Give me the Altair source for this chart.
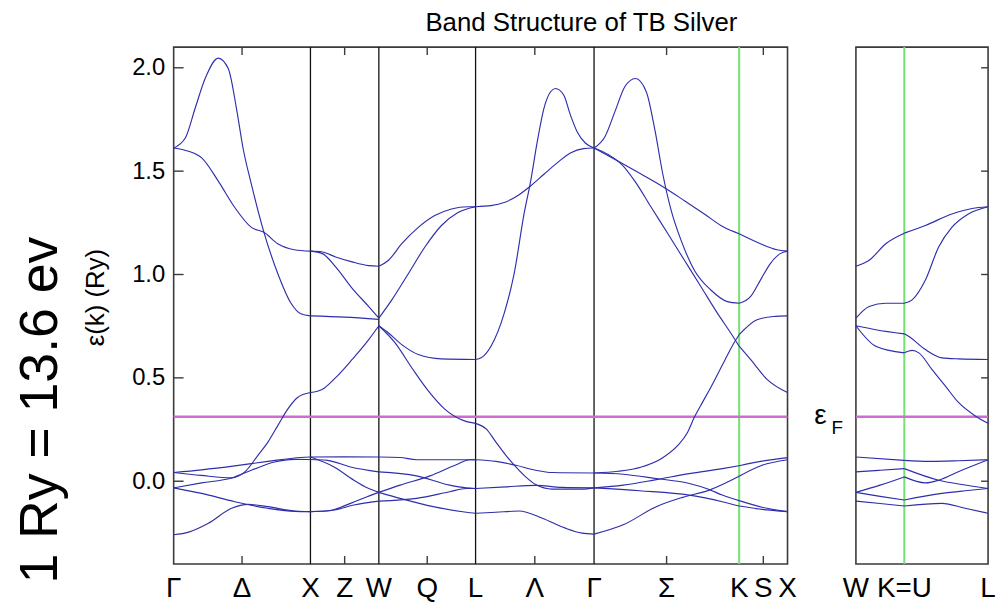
import altair as alt
import pandas as pd

# ---------------- path geometry (units of 2*pi/a) ----------------
MAIN_SEGS = ["GX", "XW", "WL", "LG", "GK", "KX"]
SIDE_SEGS = ["WK", "KL"]
SEG_LEN = {"GX": 1.0, "XW": 0.5, "WL": 0.7071, "LG": 0.8660, "GK": 1.0607,
           "KX": 0.3536, "WK": 0.3536, "KL": 0.6124}
PANEL_GAP = 0.5
E_MIN, E_MAX = -0.4, 2.1
E_FERMI = 0.312
Y_TICKS = [0.0, 0.5, 1.0, 1.5, 2.0]

MAIN_LABELS = ["Γ", "Δ", "X", "Z", "W", "Q", "L", "Λ", "Γ", "Σ", "K", "S", "X"]
SIDE_LABELS = ["W", "K=U", "L"]

# ---------------- bands: [fraction along segment, energy (Ry)] ----------------
GX = {
    "a": [[0, 1.612], [0.085, 1.66], [0.157, 1.804], [0.23, 1.948], [0.326, 2.047], [0.399, 1.996],
          [0.459, 1.804], [0.507, 1.612], [0.568, 1.437], [0.66, 1.204], [0.761, 1.005],
          [0.858, 0.861], [0.93, 0.81], [1, 0.8]],
    "b": [[0, 1.612], [0.109, 1.596], [0.205, 1.564], [0.326, 1.452], [0.447, 1.324], [0.568, 1.228],
          [0.66, 1.204], [0.761, 1.149], [0.882, 1.12], [1, 1.113]],
    "c": [[0, 0.042], [0.2, 0.028], [0.423, 0.016], [0.52, 0.045], [0.616, 0.125], [0.689, 0.189],
          [0.761, 0.269], [0.834, 0.349], [0.906, 0.405], [1, 0.429]],
    "d": [[0, 0.042], [0.205, 0.055], [0.447, 0.074], [0.689, 0.096], [0.93, 0.115], [1, 0.117]],
    "e": [[0, -0.032], [0.205, -0.008], [0.423, 0.016], [0.568, 0.053], [0.737, 0.093], [0.882, 0.106],
          [1, 0.105]],
    "f": [[0, -0.032], [0.205, -0.059], [0.447, -0.099], [0.689, -0.131], [0.93, -0.147], [1, -0.147]],
    "g": [[0, -0.259], [0.109, -0.246], [0.254, -0.203], [0.423, -0.131], [0.544, -0.112],
          [0.689, -0.123], [0.882, -0.144], [1, -0.147]],
}
XW = {
    "a": [[0, 1.113], [0.175, 1.109], [0.368, 1.085], [0.61, 1.061], [0.852, 1.043], [1, 1.04]],
    "b": [[0, 1.113], [0.175, 1.101], [0.368, 1.037], [0.61, 0.933], [0.852, 0.845], [1, 0.789]],
    "c": [[0, 0.8], [0.5, 0.794], [1, 0.783]],
    "d": [[0, 0.429], [0.175, 0.445], [0.368, 0.501], [0.61, 0.589], [0.852, 0.685], [1, 0.752]],
    "e": [[0, 0.117], [0.5, 0.118], [1, 0.117]],
    "f": [[0, 0.105], [0.248, 0.101], [0.586, 0.069], [1, 0.045]],
    "g": [[0, 0.117], [0.345, 0.069], [0.635, 0.005], [0.828, -0.032], [1, -0.054]],
    "h": [[0, -0.147], [0.248, -0.144], [0.586, -0.107], [0.828, -0.075], [1, -0.054]],
    "i": [[0, -0.147], [0.345, -0.139], [0.635, -0.115], [1, -0.096]],
}
WL = {
    "a": [[0, 1.04], [0.1, 1.069], [0.237, 1.149], [0.408, 1.228], [0.578, 1.285], [0.75, 1.317],
          [0.92, 1.328], [1, 1.328]],
    "b": [[0, 0.789], [0.134, 0.877], [0.306, 1.005], [0.476, 1.133], [0.647, 1.237], [0.818, 1.3],
          [1, 1.328]],
    "c": [[0, 0.752], [0.1, 0.717], [0.237, 0.661], [0.408, 0.613], [0.647, 0.592], [1, 0.589]],
    "d": [[0, 0.752], [0.168, 0.669], [0.34, 0.549], [0.511, 0.437], [0.681, 0.349], [0.878, 0.293],
          [1, 0.28]],
    "e": [[0, 0.117], [0.22, 0.115], [0.39, 0.104], [1, 0.104]],
    "f": [[0, 0.045], [0.39, 0.026], [0.732, -0.019], [0.904, -0.032], [1, -0.035]],
    "g": [[0, -0.054], [0.22, -0.019], [0.528, 0.026], [0.8, 0.08], [0.938, 0.104], [1, 0.104]],
    "h": [[0, -0.054], [0.22, -0.083], [0.562, -0.123], [0.904, -0.15], [1, -0.155]],
    "i": [[0, -0.096], [0.39, -0.083], [0.732, -0.051], [0.904, -0.035], [1, -0.035]],
}
LG = {
    "a": [[0, 1.328], [0.13, 1.333], [0.242, 1.348], [0.354, 1.381], [0.465, 1.429], [0.577, 1.485],
          [0.689, 1.54], [0.8, 1.588], [0.911, 1.609], [1, 1.612]],
    "b": [[0, 0.589], [0.047, 0.597], [0.13, 0.653], [0.242, 0.813], [0.326, 1.005], [0.409, 1.293],
          [0.465, 1.452], [0.521, 1.644], [0.577, 1.804], [0.633, 1.884], [0.674, 1.9], [0.744, 1.868],
          [0.8, 1.772], [0.856, 1.692], [0.926, 1.636], [1, 1.612]],
    "c": [[0, 0.28], [0.089, 0.253], [0.172, 0.189], [0.256, 0.125], [0.34, 0.069], [0.423, 0.021],
          [0.507, -0.016], [0.647, -0.038], [0.898, -0.038], [1, -0.032]],
    "d": [[0, 0.104], [0.172, 0.096], [0.34, 0.077], [0.507, 0.053], [0.647, 0.042], [1, 0.04]],
    "e": [[0, -0.035], [0.256, -0.027], [0.507, -0.02], [0.73, -0.03], [1, -0.032]],
    "f": [[0, -0.155], [0.172, -0.15], [0.368, -0.144], [0.563, -0.179], [0.758, -0.227],
          [0.898, -0.251], [1, -0.256]],
}
GK = {
    "a": [[0, 1.612], [0.076, 1.668], [0.144, 1.788], [0.212, 1.908], [0.285, 1.948], [0.36, 1.884],
          [0.417, 1.708], [0.474, 1.485], [0.532, 1.309], [0.6, 1.165], [0.691, 1.021], [0.805, 0.925],
          [0.919, 0.869], [1, 0.861]],
    "b": [[0, 1.612], [0.167, 1.548], [0.327, 1.485], [0.486, 1.42], [0.623, 1.357], [0.76, 1.293],
          [0.896, 1.228], [1, 1.197]],
    "c": [[0, 1.612], [0.098, 1.58], [0.19, 1.533], [0.281, 1.452], [0.395, 1.324], [0.509, 1.197],
          [0.623, 1.069], [0.737, 0.941], [0.85, 0.813], [0.942, 0.717], [1, 0.653]],
    "d": [[0, 0.04], [0.167, 0.048], [0.327, 0.069], [0.463, 0.109], [0.577, 0.173], [0.645, 0.237],
          [0.691, 0.309], [0.75, 0.385], [0.805, 0.455], [0.896, 0.578], [0.964, 0.669], [1, 0.709]],
    "e": [[0, -0.032], [0.201, -0.019], [0.429, 0.008], [0.657, 0.037], [0.884, 0.061], [1, 0.075]],
    "f": [[0, 0.04], [0.201, 0.034], [0.429, 0.013], [0.657, -0.011], [0.794, -0.04], [0.884, -0.067],
          [1, -0.094]],
    "g": [[0, -0.032], [0.315, -0.046], [0.657, -0.067], [0.884, -0.099], [1, -0.12]],
    "h": [[0, -0.256], [0.201, -0.211], [0.429, -0.123], [0.611, -0.078], [0.794, -0.043], [1, 0.024]],
}
KX = {
    "a": [[0, 0.861], [0.235, 0.893], [0.44, 0.973], [0.645, 1.053], [0.85, 1.101], [1, 1.113]],
    "b": [[0, 1.197], [0.44, 1.149], [0.78, 1.12], [1, 1.113]],
    "c": [[0, 0.653], [0.235, 0.589], [0.576, 0.493], [1, 0.429]],
    "d": [[0, 0.709], [0.37, 0.781], [0.71, 0.797], [1, 0.8]],
    "e": [[0, 0.075], [0.473, 0.097], [1, 0.114]],
    "f": [[0, -0.094], [0.473, -0.126], [1, -0.147]],
    "g": [[0, -0.12], [0.473, -0.136], [1, -0.147]],
    "h": [[0, 0.024], [0.473, 0.077], [1, 0.104]],
}
WK = {
    "a": [[0, 1.04], [0.274, 1.069], [0.617, 1.149], [1, 1.2]],
    "b": [[0, 0.789], [0.274, 0.845], [0.617, 0.861], [1, 0.861]],
    "c": [[0, 0.752], [0.41, 0.733], [1, 0.713]],
    "d": [[0, 0.752], [0.41, 0.653], [1, 0.621]],
    "e": [[0, 0.117], [1, 0.101]],
    "f": [[0, 0.045], [0.5, 0.053], [1, 0.061]],
    "g": [[0, -0.054], [0.5, -0.019], [1, 0.021]],
    "h": [[0, -0.054], [0.5, -0.073], [1, -0.091]],
    "i": [[0, -0.096], [0.5, -0.108], [1, -0.12]],
}
KL = {
    "a": [[0, 1.2], [0.252, 1.237], [0.567, 1.293], [0.884, 1.324], [1, 1.328]],
    "b": [[0, 0.861], [0.094, 0.877], [0.252, 0.973], [0.41, 1.133], [0.567, 1.228], [0.765, 1.293],
          [1, 1.328]],
    "c": [[0, 0.713], [0.055, 0.7], [0.252, 0.637], [0.449, 0.597], [0.647, 0.592], [1, 0.589]],
    "d": [[0, 0.621], [0.094, 0.633], [0.174, 0.621], [0.33, 0.541], [0.489, 0.461], [0.647, 0.381],
          [0.843, 0.317], [1, 0.28]],
    "e": [[0, 0.101], [0.291, 0.096], [0.647, 0.099], [1, 0.104]],
    "f": [[0, 0.061], [0.41, 0.005], [0.686, -0.016], [1, -0.035]],
    "g": [[0, 0.021], [0.252, -0.008], [0.41, 0.005], [0.686, 0.053], [1, 0.104]],
    "h": [[0, -0.091], [0.449, -0.059], [0.726, -0.046], [1, -0.035]],
    "i": [[0, -0.12], [0.449, -0.107], [0.726, -0.131], [1, -0.155]],
}
SEG_BANDS = {"GX": GX, "XW": XW, "WL": WL, "LG": LG, "GK": GK, "KX": KX, "WK": WK, "KL": KL}

# ---------------- derived positions ----------------
start = {}
pos = 0.0
for s in MAIN_SEGS:
    start[s] = pos
    pos += SEG_LEN[s]
MAIN_END = pos
P2_START = MAIN_END + PANEL_GAP
pos = P2_START
for s in SIDE_SEGS:
    start[s] = pos
    pos += SEG_LEN[s]
P2_END = pos

WIDTH, HEIGHT = 821, 521
PX_X = WIDTH / P2_END
PX_Y = HEIGHT / (E_MAX - E_MIN)

rows = []
for s, curves in SEG_BANDS.items():
    for name, pts in curves.items():
        for f, e in pts:
            rows.append({"curve": s + name, "k": start[s] + f * SEG_LEN[s], "E": e})
bands = pd.DataFrame(rows)

main_pos = []
for s in MAIN_SEGS:
    main_pos += [start[s], start[s] + SEG_LEN[s] / 2]
main_pos.append(MAIN_END)
side_pos = [start["WK"], start["KL"], P2_END]
labels = pd.DataFrame({"k": main_pos + side_pos, "t": MAIN_LABELS + SIDE_LABELS})

vert_black = pd.DataFrame({"k": [start["XW"], start["WL"], start["LG"], start["GK"]]})
vert_green = pd.DataFrame({"k": [start["KX"], start["KL"]]})
frames = pd.DataFrame({"k0": [0, P2_START], "k1": [MAIN_END, P2_END]})
fermi = pd.DataFrame({"k0": [0, P2_START], "k1": [MAIN_END, P2_END], "E": [E_FERMI, E_FERMI]})

mid_pos = [start[s] + SEG_LEN[s] / 2 for s in MAIN_SEGS]
tick_len_y = 8 / PX_Y
xticks = pd.DataFrame({
    "k": mid_pos + mid_pos,
    "E": [E_MIN] * len(mid_pos) + [E_MAX] * len(mid_pos),
    "E1": [E_MIN + tick_len_y] * len(mid_pos) + [E_MAX - tick_len_y] * len(mid_pos),
})
yticks = pd.DataFrame({
    "k0": [0.0] * len(Y_TICKS) + [P2_END - 7 / PX_X] * len(Y_TICKS),
    "k1": [10 / PX_X] * len(Y_TICKS) + [P2_END] * len(Y_TICKS),
    "E": Y_TICKS + Y_TICKS,
})

FONT = "Liberation Sans"
xs = alt.Scale(domain=[0, P2_END], nice=False, zero=False)
ys = alt.Scale(domain=[E_MIN, E_MAX], nice=False, zero=False)
yaxis = alt.Axis(values=Y_TICKS, format=".1f", labelFontSize=24, labelFont=FONT, labelColor="black",
                 ticks=False, domain=False, grid=False, labelPadding=9,
                 title="ε(k) (Ry)", titleFont=FONT, titleFontSize=26, titleFontWeight="normal",
                 titleColor="black", titleX=-79, titleY=252, titleAngle=270, titleAlign="center",
                 titleBaseline="middle")
Y = lambda f: alt.Y(f, scale=ys, axis=yaxis)
X = lambda f: alt.X(f, scale=xs, axis=None)

frame_layer = alt.Chart(frames).mark_rect(fillOpacity=0, stroke="#3a3a3a", strokeWidth=1.6).encode(
    x=X("k0:Q"), x2="k1:Q", y=alt.value(0), y2=alt.value(HEIGHT))
black_layer = alt.Chart(vert_black).mark_rule(color="#111111", strokeWidth=1.3).encode(x=X("k:Q"))
green_layer = alt.Chart(vert_green).mark_rule(color="#72e272", strokeWidth=2).encode(x=X("k:Q"))
fermi_layer = alt.Chart(fermi).mark_rule(color="#d06bd0", strokeWidth=2.5).encode(
    x=X("k0:Q"), x2="k1:Q", y=Y("E:Q"))
band_layer = alt.Chart(bands).mark_line(color="#2e2eac", strokeWidth=1.15, interpolate="monotone").encode(
    x=X("k:Q"), y=Y("E:Q"), detail="curve:N")
xtick_layer = alt.Chart(xticks).mark_rule(color="#3a3a3a", strokeWidth=1.4).encode(
    x=X("k:Q"), y=Y("E:Q"), y2="E1:Q")
ytick_layer = alt.Chart(yticks).mark_rule(color="#3a3a3a", strokeWidth=1.4).encode(
    x=X("k0:Q"), x2="k1:Q", y=Y("E:Q"))
label_layer = alt.Chart(labels).mark_text(font=FONT, fontSize=28, color="black",
                                          baseline="alphabetic").encode(
    x=X("k:Q"), y=alt.value(HEIGHT + 33), text="t:N")

title_layer = alt.Chart(pd.DataFrame({"t": ["Band Structure of TB Silver"]})).mark_text(
    font=FONT, fontSize=26, color="black", baseline="middle").encode(
    x=alt.value(411), y=alt.value(-24), text="t:N")
note_layer = alt.Chart(pd.DataFrame({"t": ["1 Ry = 13.6 ev"]})).mark_text(
    font=FONT, fontSize=54, color="black", baseline="middle", angle=270).encode(
    x=alt.value(-134), y=alt.value(366), text="t:N")
eps_layer = alt.Chart(pd.DataFrame({"t": ["ε"]})).mark_text(
    font=FONT, fontSize=28, color="black", baseline="middle").encode(
    x=alt.value(652), y=alt.value(372), text="t:N")
sub_layer = alt.Chart(pd.DataFrame({"t": ["F"]})).mark_text(
    font=FONT, fontSize=19, color="black", baseline="middle").encode(
    x=alt.value(669), y=alt.value(384), text="t:N")

chart = alt.layer(
    frame_layer, black_layer, green_layer, fermi_layer, band_layer,
    xtick_layer, ytick_layer, label_layer, title_layer, note_layer, eps_layer, sub_layer
).properties(
    width=WIDTH, height=HEIGHT,
    padding={"left": 167, "top": 37, "right": 8, "bottom": 40},
    autosize=alt.AutoSizeParams(type="none"),
).configure_view(stroke=None)

chart.save("out.html", embed_options={"renderer": "svg", "actions": False})
